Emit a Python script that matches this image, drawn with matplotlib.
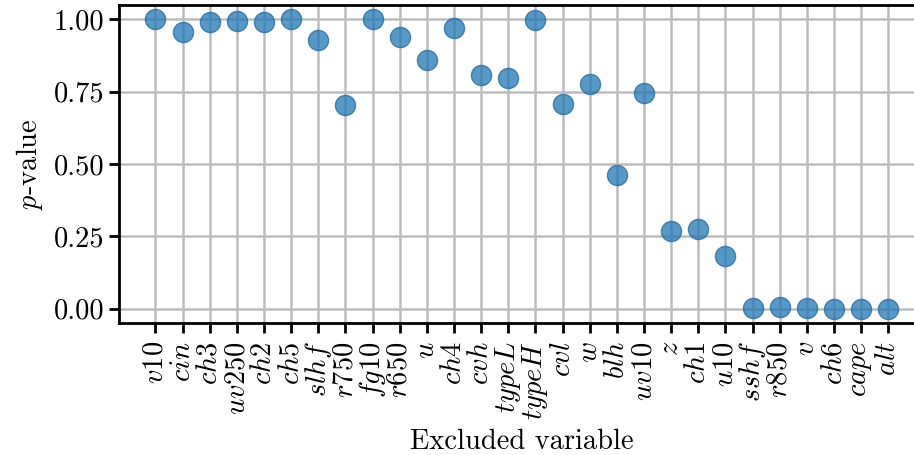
import matplotlib
matplotlib.use("Agg")
import matplotlib.pyplot as plt

plt.rcParams['font.family'] = 'serif'
plt.rcParams['font.serif'] = ['cmr10']
plt.rcParams['mathtext.fontset'] = 'cm'
plt.rcParams['axes.formatter.use_mathtext'] = True

variables = ["v10", "cin", "ch3", "uv250", "ch2", "ch5", "slhf", "r750", "fg10", "r650",
             "u", "ch4", "cvh", "typeL", "typeH", "cvl", "w", "blh", "uv10", "z",
             "ch1", "u10", "sshf", "r850", "v", "ch6", "cape", "alt"]
p_values = [1.00, 0.955, 0.99, 0.995, 0.99, 1.00, 0.93, 0.703, 1.00, 0.94,
            0.86, 0.972, 0.807, 0.797, 0.997, 0.707, 0.776, 0.462, 0.745, 0.269,
            0.276, 0.183, 0.003, 0.007, 0.001, 0.0, 0.0, 0.0]
yticks = [0.00, 0.25, 0.50, 0.75, 1.00]

fig = plt.figure(figsize=(9.14, 4.55), dpi=100)
ax = fig.add_axes([0.130, 0.29, 0.882, 0.699])
labels = [f"${v}$" for v in variables]
x = list(range(len(variables)))
ax.scatter(x, p_values, s=210, color='#1f77b4', alpha=0.75, edgecolors='#1f6aa5', linewidths=1.0, zorder=3)
ax.set_xticks(x)
ax.set_xticklabels(labels, rotation=90, fontsize=20.5)
ax.set_yticks(yticks)
ax.set_yticklabels([f"{t:.2f}" for t in yticks], fontsize=20.5)
ax.grid(True, color='#bdbdbd', linewidth=1.8)
ax.set_axisbelow(True)
ax.set_ylabel("$p$-value", fontsize=20.5, labelpad=6)
ax.set_xlabel("Excluded variable", fontsize=20.5, labelpad=6)
for s in ax.spines.values():
    s.set_linewidth(2.0)
ax.tick_params(direction='out', length=7, width=2.0)
ax.tick_params(axis='x', pad=6)
fig.savefig("out.png", dpi=100)
